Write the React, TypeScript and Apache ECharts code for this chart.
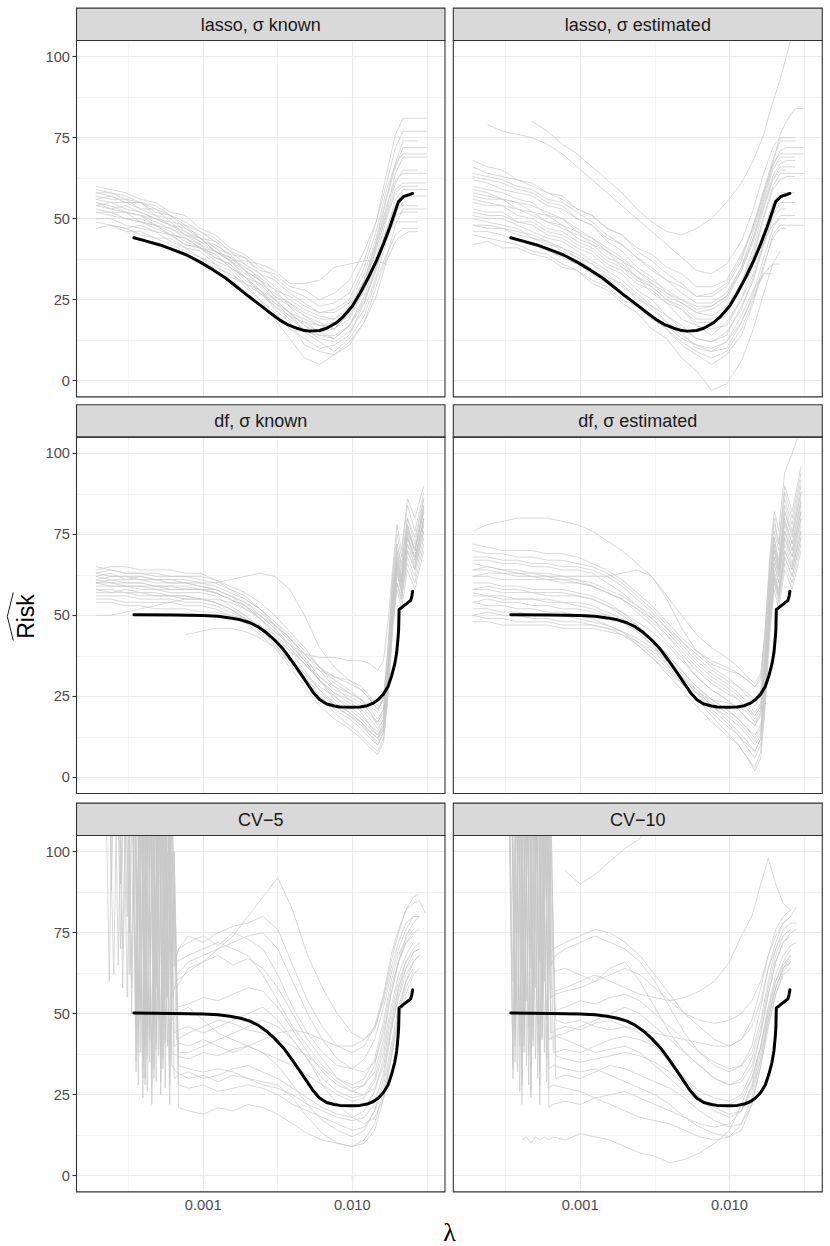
import React, { useEffect, useRef } from 'react';
import * as echarts from 'echarts';

// ---------- axis ticks (x in log10(lambda)) ----------
const X_TICKS = [-3, -2];
const X_MINOR = [-3.5, -2.5, -1.5];
const Y_TICKS = [0, 25, 50, 75, 100];
const Y_MINOR = [12.5, 37.5, 62.5, 87.5];
const X_MIN = -3.85;
const X_MAX = -1.378;
const Y_MIN = -5;
const Y_MAX = 105;

const PANEL_TITLES = ['lasso, \u03c3 known', 'lasso, \u03c3 estimated', 'df, \u03c3 known', 'df, \u03c3 estimated', 'CV\u22125', 'CV\u221210'];

// ---------- true risk curves (black) ----------
const BLACK_A_U = [-3.465, -3.4, -3.29, -3.2, -3.111, -3.02, -2.933, -2.85, -2.776, -2.7, -2.62, -2.55, -2.485, -2.43, -2.373, -2.33, -2.284, -2.22, -2.172, -2.11, -2.06, -2.0, -1.948, -1.89, -1.836, -1.79, -1.747, -1.71, -1.691, -1.658, -1.625, -1.595];
const BLACK_A_V = [44.1, 43.3, 41.9, 40.4, 38.8, 36.6, 34.2, 31.7, 29.0, 26.2, 23.4, 20.9, 18.7, 17.2, 16.2, 15.6, 15.3, 15.5, 16.2, 17.8, 19.8, 23.0, 27.0, 32.0, 37.2, 42.3, 47.5, 52.5, 55.2, 56.8, 57.3, 57.8];
const BLACK_B_U = [-3.465, -3.2, -3.0, -2.9, -2.821, -2.75, -2.687, -2.63, -2.575, -2.52, -2.463, -2.41, -2.351, -2.3, -2.262, -2.22, -2.172, -2.12, -2.083, -2.0, -1.948, -1.9, -1.859, -1.825, -1.792, -1.76, -1.736, -1.715, -1.702, -1.693, -1.689, -1.686, -1.67, -1.658, -1.635, -1.608, -1.6, -1.595];
const BLACK_B_V = [50.2, 50.1, 49.9, 49.7, 49.2, 48.6, 47.7, 46.4, 44.6, 42.3, 39.5, 36.2, 32.3, 28.8, 26.2, 24.0, 22.6, 22.0, 21.7, 21.6, 21.7, 22.1, 22.9, 24.0, 25.6, 28.0, 31.3, 35.0, 38.5, 43.0, 45.6, 51.8, 52.3, 52.8, 53.6, 54.6, 56.0, 57.4];

// ---------- lasso panels: estimated risk curves (grey) ----------
const LX = [-3.72, -3.62, -3.52, -3.42, -3.32, -3.22, -3.12, -3.02, -2.92, -2.82, -2.72, -2.62, -2.52, -2.42, -2.32, -2.22, -2.12, -2.02, -1.92, -1.84, -1.77, -1.71, -1.66, -1.62, -1.56, -1.5];
const LASSO_KNOWN = [
  [57, 56, 56, 53, 53, 49, 48, 44, 43, 38, 36, 31, 28, 23, 20, 17, 18, 21, 31, 42, 54, 62, 64, 64, 64, 64],
  [52, 51, 50, 49, 47, 45, 42, 41, 37, 35, 30, 28, 23, 20, 15, 14, 13, 17, 26, 37, 47, 54, 54, 54, 54, null],
  [59, 58, 57, 55, 54, 51, 49, 46, 44, 40, 38, 33, 31, 27, 24, 21, 22, 25, 35, 46, 59, 67, 70, 70, 70, 70],
  [50, 50, 48, 47, 46, 43, 41, 38, 36, 32, 30, 25, 21, 16, 13, 10, 11, 14, 24, 34, 45, 49, 49, 49, 49, null],
  [55, 53, 54, 52, 50, 49, 45, 44, 40, 38, 34, 31, 26, 23, 18, 17, 16, 21, 29, 41, 51, 59, 61, 61, 61, 61],
  [null, 48, 47, 48, 46, 45, 42, 41, 38, 36, 32, 30, 25, 21, 15, 12, 9, 13, 20, 31, 39, 45, 47, 47, 47, null],
  [54, 55, 53, 52, 50, 48, 46, 43, 42, 39, 38, 34, 33, 29, 28, 25, 27, 31, 40, 49, 61, 72, 77, 77, 77, 77],
  [58, 57, 55, 55, 51, 50, 46, 44, 40, 37, 32, 28, 22, 18, 11, 9, 8, 12, 18, 29, 38, 48, 53, 53, 53, 53],
  [53, 52, 52, 49, 48, 45, 44, 41, 39, 35, 32, 27, 24, 20, 18, 15, 16, 19, 28, 38, 50, 58, 60, 60, 60, null],
  [56, 57, 55, 55, 52, 51, 47, 45, 41, 39, 34, 31, 26, 24, 20, 18, 16, 21, 29, 42, 53, 64, 69, 69, 69, 69],
  [null, null, 50, 49, 48, 45, 44, 41, 40, 37, 37, 36, 34, 30, 30, 31, 35, 36, 37, 37, 36, null, null, null, null, null],
  [55, 54, 52, 51, 48, 47, 44, 42, 38, 36, 31, 28, 24, 21, 17, 15, 13, 17, 24, 35, 45, 54, 57, 57, 57, 57],
  [47, 48, 46, 46, 44, 44, 41, 40, 36, 34, 29, 25, 19, 13, 7, 5, 8, 11, 18, 26, 37, 43, 45, 46, 46, null],
  [60, 59, 58, 56, 55, 52, 51, 47, 45, 41, 39, 35, 32, 28, 26, 23, 24, 27, 37, 49, 64, 76, 81, 81, 81, 81],
  [54, 53, 52, 51, 49, 47, 45, 42, 40, 37, 33, 30, 27, 24, 21, 19, 19, 23, 31, 40, 52, 61, 65, 65, 65, null],
  [58, 58, 56, 55, 53, 51, 48, 46, 43, 40, 36, 33, 29, 25, 22, 20, 19, 22, 31, 43, 56, 66, 72, 72, 72, 72],
  [49, 48, 47, 45, 44, 42, 40, 38, 35, 33, 30, 27, 23, 19, 16, 13, 12, 15, 22, 32, 43, 51, 52, 52, 52, null],
  [56, 55, 55, 53, 51, 48, 47, 44, 41, 37, 34, 29, 25, 21, 17, 14, 14, 17, 25, 35, 46, 56, 59, 59, 59, 59],
  [null, null, null, 51, 50, 48, 45, 43, 40, 38, 35, 32, 28, 26, 23, 21, 21, 24, 33, 44, 57, 67, 74, 74, 74, null],
  [52, 52, 50, 50, 48, 46, 43, 41, 39, 35, 32, 28, 25, 21, 19, 17, 17, 20, 28, 36, 45, 52, 55, null, null, null],
];
const LASSO_EST = [
  [null, null, null, null, 80, 77, 73, 70, 66, 62, 58, 53, 49, 46, 45, 47, 50, 55, 61, 68, 76, 86, 93, 100, 110, null],
  [null, 79, 77, 76, 75, 73, 70, 66, 62, 58, 54, 50, 46, 42, 38, 34, 33, 36, 43, 53, 64, 72, 75, 75, 75, null],
  [66, 64, 63, 62, 60, 58, 56, 53, 51, 47, 45, 40, 37, 33, 30, 26, 26, 29, 37, 48, 58, 67, 70, 70, 70, 70],
  [58, 57, 56, 55, 52, 51, 48, 46, 42, 40, 35, 32, 27, 24, 19, 17, 14, 18, 25, 36, 46, 55, 58, 58, 58, null],
  [50, 49, 48, 47, 44, 43, 40, 38, 34, 32, 27, 24, 19, 16, 11, 8, 5, 8, 14, 24, 35, 45, 48, 48, 48, 48],
  [62, 61, 59, 58, 57, 54, 53, 50, 48, 44, 42, 38, 35, 31, 29, 26, 27, 30, 38, 48, 59, 68, 74, 74, 74, null],
  [45, 44, 43, 42, 40, 39, 36, 34, 30, 28, 24, 21, 16, 13, 7, 3, -3, -1, 6, 16, 27, 36, 40, null, null, null],
  [55, 54, 54, 51, 50, 47, 46, 43, 41, 37, 35, 31, 29, 25, 23, 19, 19, 21, 30, 39, 51, 60, 64, 64, 64, 64],
  [60, 59, 58, 56, 55, 51, 50, 46, 44, 40, 37, 32, 29, 25, 22, 18, 18, 20, 29, 38, 50, 59, 62, 63, 63, null],
  [52, 51, 51, 49, 48, 45, 44, 41, 39, 35, 33, 28, 25, 20, 17, 13, 12, 14, 23, 31, 42, 50, 53, 53, null, null],
  [68, 66, 65, 62, 61, 58, 57, 53, 51, 47, 45, 41, 39, 35, 33, 29, 29, 31, 39, 47, 58, 67, 76, 80, 84, 84],
  [48, 47, 47, 45, 44, 42, 41, 38, 36, 32, 30, 25, 23, 18, 15, 10, 9, 10, 18, 26, 33, 36, 36, null, null, null],
  [57, 56, 56, 53, 52, 49, 48, 44, 42, 38, 36, 32, 30, 26, 24, 21, 22, 25, 34, 44, 56, 65, 69, 69, 69, null],
  [42, 43, 41, 41, 39, 38, 35, 34, 31, 29, 25, 23, 19, 17, 13, 11, 9, 12, 20, 28, 33, 33, null, null, null, null],
  [63, 62, 61, 59, 58, 55, 54, 50, 48, 43, 40, 35, 32, 27, 25, 22, 23, 26, 35, 44, 55, 63, 67, 68, 68, null],
  [53, 52, 52, 49, 49, 46, 45, 42, 40, 36, 34, 30, 28, 24, 22, 17, 16, 17, 25, 33, 43, 48, 50, 50, null, null],
  [59, 58, 56, 55, 54, 52, 50, 47, 44, 41, 38, 34, 30, 27, 24, 21, 20, 23, 30, 41, 53, 62, 66, 66, 66, null],
  [46, 46, 45, 43, 42, 40, 38, 36, 33, 30, 27, 23, 20, 16, 12, 9, 7, 9, 16, 25, 36, 44, 47, 47, null, null],
  [64, 63, 62, 60, 59, 56, 55, 52, 49, 45, 42, 38, 34, 31, 27, 24, 24, 27, 35, 46, 57, 66, 71, 72, 72, 72],
  [51, 50, 50, 48, 46, 44, 43, 40, 37, 34, 31, 27, 23, 20, 16, 13, 12, 15, 22, 32, 42, 51, 55, 55, 55, null],
  [56, 55, 54, 53, 51, 49, 47, 45, 43, 40, 37, 34, 31, 28, 25, 23, 23, 26, 34, 43, 54, 62, 65, 65, null, null],
  [48, 48, 47, 46, 45, 43, 41, 39, 36, 33, 29, 26, 22, 18, 14, 11, 10, 12, 18, 27, 38, 47, 51, 51, 51, null],
];

// ---------- df panels ----------
const DX = [-3.72, -3.62, -3.52, -3.42, -3.32, -3.22, -3.12, -3.02, -2.92, -2.82, -2.72, -2.62, -2.52, -2.42, -2.32, -2.22, -2.12, -2.02, -1.94, -1.88, -1.83, -1.79, -1.76, -1.73, -1.7, -1.67, -1.63, -1.58, -1.52];
const DF_KNOWN = [
  [62, 63, 61, 62, 61, 60, 60, 59, 58, 56, 54, 50, 46, 40, 35, 30, 26, 24, 22, 19, 17, 20, 35, 55, 70, 62, 78, 70, 84],
  [58, 57, 58, 57, 57, 56, 56, 55, 54, 52, 49, 45, 41, 35, 30, 25, 21, 18, 15, 12, 10, 14, 28, 48, 60, 55, 68, 62, 74],
  [65, 64, 63, 63, 63, 62, 62, 62, 61, 59, 57, 54, 50, 45, 40, 34, 29, 26, 24, 22, 20, 25, 40, 62, 75, 68, 84, 76, 88],
  [55, 55, 54, 54, 54, 54, 53, 53, 52, 50, 48, 44, 40, 34, 28, 22, 18, 15, 12, 9, 7, 11, 25, 45, 58, 52, 64, 58, 70],
  [60, 60, 59, 59, 59, 58, 58, 58, 57, 55, 53, 49, 45, 41, 36, 33, 31, 30, 28, 25, 22, 24, 38, 58, 72, 65, 80, 72, 86],
  [50, 50, 51, 52, 53, 54, 55, 55, 54, 52, 50, 46, 42, 37, 32, 27, 23, 20, 17, 14, 12, 16, 30, 50, 64, 58, 72, 66, 78],
  [null, null, null, null, null, null, 44, 45, 46, 46, 45, 43, 40, 36, 32, 28, 25, 22, 19, 16, 14, 18, 32, 52, 66, 60, 74, 68, 80],
  [61, 62, 62, 61, 61, 61, 60, 60, 60, 61, 62, 63, 62, 58, 50, 40, 34, 30, 27, 24, 21, 24, 40, 60, 72, 66, 80, 74, 86],
  [63, 62, 62, 62, 61, 61, 61, 60, 59, 57, 55, 52, 48, 43, 37, 31, 27, 25, 23, 20, 17, 21, 35, 55, 68, 62, 76, 70, 82],
  [57, 57, 57, 56, 56, 56, 55, 55, 54, 52, 49, 46, 41, 36, 31, 26, 22, 19, 16, 13, 11, 15, 28, 47, 60, 54, 70, 64, 76],
  [64, 65, 65, 64, 64, 64, 63, 63, 61, 58, 55, 52, 47, 43, 38, 34, 31, 29, 27, 24, 21, 24, 38, 57, 70, 64, 78, 70, 84],
  [59, 59, 59, 58, 58, 57, 57, 57, 56, 53, 50, 46, 42, 37, 31, 25, 20, 16, 13, 10, 8, 12, 26, 46, 60, 56, 66, 60, 72],
  [60, 59, 59, 59, 58, 58, 58, 58, 57, 55, 52, 49, 45, 41, 38, 37, 37, 36, 36, 35, 33, 36, 48, 64, 78, 70, 86, 80, 90],
  [62, 61, 61, 61, 60, 60, 60, 59, 58, 56, 53, 49, 44, 39, 33, 27, 22, 19, 17, 14, 12, 15, 30, 50, 63, 57, 72, 65, 78],
  [60, 61, 60, 60, 59, 59, 58, 58, 57, 55, 53, 50, 46, 41, 36, 30, 25, 21, 18, 15, 13, 17, 31, 52, 66, 59, 75, 68, 80],
  [56, 56, 56, 55, 55, 55, 54, 54, 53, 51, 49, 46, 43, 39, 35, 31, 28, 26, 24, 21, 18, 21, 34, 54, 68, 61, 77, 70, 83],
  [63, 64, 63, 63, 62, 62, 62, 61, 60, 58, 56, 52, 48, 44, 39, 34, 30, 27, 24, 20, 16, 19, 33, 53, 66, 60, 74, 67, 79],
  [58, 58, 57, 57, 56, 56, 56, 55, 55, 54, 52, 50, 47, 43, 38, 33, 28, 24, 20, 16, 13, 16, 30, 50, 63, 57, 70, 64, 76],
  [61, 60, 60, 60, 59, 59, 59, 58, 58, 56, 54, 51, 47, 42, 36, 30, 24, 20, 17, 13, 10, 14, 29, 50, 65, 58, 74, 67, 80],
  [54, 54, 53, 53, 52, 52, 52, 51, 51, 50, 49, 47, 44, 40, 35, 30, 26, 23, 21, 18, 15, 18, 32, 53, 67, 60, 76, 70, 82],
];
const DF_EST = [
  [66, 65, 64, 63, 63, 62, 62, 61, 59, 57, 55, 51, 47, 42, 37, 31, 27, 24, 21, 18, 16, 20, 36, 58, 72, 64, 80, 72, 86],
  [56, 56, 55, 55, 55, 54, 54, 53, 52, 50, 48, 45, 41, 35, 29, 24, 20, 16, 13, 10, 8, 12, 28, 50, 64, 58, 70, 64, 76],
  [76, 78, 79, 80, 80, 80, 79, 78, 76, 73, 70, 66, 62, 56, 50, 44, 40, 37, 34, 31, 29, 32, 46, 66, 80, 72, 90, 82, 96],
  [62, 62, 61, 61, 61, 61, 60, 60, 59, 57, 55, 52, 49, 45, 40, 35, 31, 28, 25, 22, 19, 22, 38, 60, 74, 66, 82, 74, 88],
  [48, 48, 47, 47, 47, 47, 46, 46, 46, 45, 44, 42, 38, 34, 29, 24, 19, 14, 10, 6, 3, 8, 24, 46, 60, 54, 66, 60, 72],
  [70, 69, 69, 68, 68, 67, 67, 66, 65, 63, 60, 56, 52, 47, 42, 37, 33, 30, 28, 26, 24, 27, 42, 63, 76, 70, 86, 78, 92],
  [58, 58, 57, 57, 57, 56, 56, 56, 55, 53, 50, 47, 43, 38, 33, 28, 24, 21, 18, 15, 13, 16, 30, 52, 66, 60, 74, 66, 80],
  [52, 52, 51, 51, 50, 50, 50, 49, 48, 47, 45, 42, 39, 35, 31, 27, 23, 20, 17, 14, 11, 14, 28, 48, 62, 56, 68, 62, 74],
  [64, 65, 64, 64, 63, 63, 62, 62, 62, 62, 63, 64, 62, 55, 46, 39, 35, 33, 32, 30, 28, 31, 46, 68, 82, 76, 94, 100, 108],
  [60, 60, 59, 59, 58, 58, 58, 57, 56, 54, 51, 47, 43, 38, 33, 28, 24, 21, 18, 15, 12, 15, 30, 52, 66, 60, 76, 68, 82],
  [54, 53, 53, 52, 52, 51, 51, 50, 49, 47, 45, 41, 37, 32, 27, 22, 17, 13, 10, 6, 2, 6, 22, 44, 58, 52, 64, 58, 70],
  [67, 67, 66, 66, 65, 65, 64, 64, 63, 60, 57, 53, 49, 44, 38, 33, 29, 26, 24, 21, 19, 22, 36, 56, 70, 64, 78, 70, 84],
  [50, 49, 49, 48, 48, 48, 47, 47, 47, 46, 44, 41, 37, 33, 29, 26, 24, 23, 22, 20, 17, 20, 34, 54, 68, 62, 74, 68, 80],
  [72, 71, 70, 70, 70, 69, 69, 68, 66, 64, 61, 57, 53, 48, 43, 39, 36, 34, 32, 30, 28, 30, 44, 64, 78, 72, 88, 80, 94],
  [58, 59, 58, 58, 57, 57, 57, 56, 55, 53, 51, 48, 45, 41, 36, 31, 27, 24, 21, 18, 16, 19, 33, 54, 68, 62, 76, 70, 82],
  [62, 63, 63, 62, 62, 61, 61, 60, 59, 57, 55, 52, 48, 44, 39, 34, 30, 27, 24, 21, 18, 21, 36, 57, 70, 63, 79, 72, 85],
  [57, 56, 56, 55, 55, 55, 54, 54, 53, 51, 49, 46, 42, 37, 32, 27, 22, 18, 14, 11, 8, 12, 27, 48, 62, 56, 70, 64, 76],
  [68, 68, 67, 67, 66, 66, 65, 65, 64, 62, 59, 55, 51, 46, 41, 36, 32, 29, 26, 23, 20, 23, 38, 58, 72, 65, 82, 75, 88],
  [54, 55, 54, 54, 53, 53, 52, 52, 51, 50, 48, 45, 41, 36, 31, 26, 22, 19, 16, 13, 10, 13, 28, 49, 63, 57, 72, 65, 78],
  [64, 64, 63, 63, 62, 62, 61, 61, 60, 58, 56, 53, 50, 46, 42, 38, 34, 31, 28, 25, 22, 25, 40, 60, 74, 67, 84, 76, 90],
  [50, 51, 50, 50, 49, 49, 48, 48, 47, 46, 45, 43, 40, 36, 31, 26, 21, 17, 13, 9, 6, 10, 26, 47, 61, 55, 68, 62, 74],
];

// ---------- CV panels (two interleaved lambda grids) ----------
const CX = [-3.66, -3.63, -3.6, -3.57, -3.54, -3.51, -3.48, -3.45, -3.42, -3.39, -3.36, -3.33, -3.3, -3.27, -3.24, -3.21, -3.18, -3.1, -3.0, -2.9, -2.8, -2.7, -2.6, -2.5, -2.4, -2.3, -2.2, -2.1, -2.0, -1.92, -1.85, -1.79, -1.74, -1.69, -1.64, -1.59, -1.55, -1.51];
const CX_B = [-3.645, -3.615, -3.585, -3.555, -3.525, -3.495, -3.465, -3.435, -3.405, -3.375, -3.345, -3.315, -3.285, -3.255, -3.225, -3.195, -3.165, -3.1, -3.0, -2.9, -2.8, -2.7, -2.6, -2.5, -2.4, -2.3, -2.2, -2.1, -2.0, -1.92, -1.85, -1.79, -1.74, -1.69, -1.64, -1.59, -1.55, -1.51];
const CV5 = [
  [null, null, null, null, null, null, 140, 45, 150, 40, 160, 48, 130, 52, 120, 55, 60, 63, 66, 70, 74, 80, 86, 92, 82, 68, 58, 50, 44, 42, 45, 55, 66, 75, 82, 86, 87, null],
  [150, 88, 160, 70, 140, 62, 150, 50, 170, 45, 140, 60, 150, 55, 110, 65, 70, 72, 74, 71, 75, 73, 70, 62, 52, 44, 38, 34, 33, 36, 42, 52, 62, 70, 76, 80, null, null],
  [null, null, null, null, null, null, 130, 32, 150, 28, 160, 30, 140, 33, 100, 34, 32, 30, 31, 29, 31, 30, 28, 27, 25, 22, 20, 18, 17, 18, 22, 32, 45, 55, 62, 66, 68, null],
  [null, null, null, null, null, null, null, 140, 24, 150, 22, 130, 25, 120, 22, 90, 21, 20, 19, 21, 20, 22, 21, 19, 16, 13, 11, 10, 9, 11, 16, 26, 38, 50, 58, 63, null, null],
  [null, 120, 62, 150, 58, 130, 60, 160, 50, 140, 42, 150, 48, 120, 55, 100, 58, 64, 66, 68, 65, 67, 64, 58, 50, 42, 36, 30, 27, 28, 32, 42, 56, 66, 72, 75, 76, null],
  [null, null, null, null, null, null, 150, 38, 160, 36, 130, 40, 150, 42, 120, 44, 45, 46, 44, 46, 48, 50, 52, 48, 42, 36, 30, 26, 24, 25, 30, 40, 52, 62, 68, 72, null, null],
  [null, null, null, null, null, null, 160, 35, 140, 30, 150, 33, 110, 36, 140, 38, 37, 36, 38, 37, 39, 40, 38, 34, 28, 22, 17, 14, 12, 14, 20, 30, 44, 56, 64, 69, 70, null],
  [null, null, 150, 90, 130, 75, 160, 55, 140, 50, 150, 58, 130, 62, 150, 66, 70, 74, 72, 75, 77, 78, 80, 76, 65, 54, 46, 40, 38, 40, 46, 56, 68, 76, 82, 84, 85, 81],
  [null, null, null, null, null, null, 140, 42, 150, 44, 160, 46, 130, 48, 140, 50, 52, 53, 55, 54, 56, 58, 57, 52, 45, 38, 32, 28, 26, 28, 34, 46, 58, 66, 72, 74, null, null],
  [null, null, null, null, null, null, null, 150, 30, 140, 27, 150, 29, 130, 28, 100, 28, 27, 28, 26, 27, 28, 27, 25, 22, 20, 18, 16, 14, 15, 20, 28, 40, 52, 60, 64, null, null],
  [140, 60, 150, 65, 140, 55, 150, 46, 130, 40, 150, 44, 140, 46, 130, 48, 50, 52, 48, 44, 42, 40, 38, 36, 34, 31, 28, 25, 23, 24, 29, 38, 50, 60, 66, 69, 70, null],
  [null, null, null, null, null, null, 130, 40, 150, 37, 140, 39, 160, 41, 110, 40, 41, 40, 42, 40, 38, 40, 42, 44, 45, 44, 42, 40, 40, 42, 46, 54, 64, 72, 78, 80, 80, null],
  [null, null, null, null, 150, 80, 140, 60, 150, 55, 130, 60, 140, 62, 120, 64, 66, 68, 70, 72, 70, 68, 62, 54, 46, 40, 34, 30, 28, 30, 36, 48, 60, 68, 73, 76, null, null],
  [null, null, null, null, null, null, null, 160, 34, 130, 32, 150, 33, 120, 35, 90, 34, 33, 32, 33, 32, 30, 29, 28, 24, 18, 13, 10, 9, 10, 14, 24, 36, 48, 56, 62, 64, null],
  [null, null, null, null, null, 135, 50, 150, 38, 140, 35, 160, 37, 130, 40, 110, 42, 44, 46, 48, 47, 45, 44, 42, 40, 37, 33, 29, 26, 25, 27, 34, 46, 58, 66, 70, 72, null],
  [null, null, null, null, null, null, 150, 28, 130, 26, 150, 29, 140, 27, 120, 30, 31, 32, 30, 31, 33, 34, 32, 30, 27, 24, 21, 19, 18, 20, 26, 36, 48, 58, 64, 67, null, null],
  [null, null, null, 150, 70, 140, 58, 160, 48, 130, 45, 150, 52, 140, 56, 120, 62, 66, 68, 70, 72, 74, 75, 70, 60, 50, 42, 36, 33, 32, 35, 44, 56, 66, 74, 78, 80, null],
  [null, null, null, null, null, null, null, 140, 36, 150, 34, 130, 36, 160, 38, 100, 38, 38, 40, 42, 44, 46, 48, 46, 42, 36, 28, 22, 18, 16, 18, 24, 36, 50, 60, 66, 68, null],
];
const CV10 = [
  [null, null, null, null, null, null, null, null, null, null, null, null, null, null, null, null, null, 94, 90, 93, 97, 101, 104, 110, null, null, null, null, null, null, null, null, null, null, null, null, null, null],
  [null, null, null, null, null, null, 150, 55, 140, 50, 160, 52, 130, 56, 150, 58, 57, 58, 60, 62, 60, 58, 56, 55, 54, 55, 57, 60, 66, 74, 80, 90, 98, 90, 84, 82, null, null],
  [null, null, null, null, null, null, null, null, null, 11, 12, 10, 12, 11, 12, 11, 12, 11, 13, 12, 11, 9, 7, 6, 4, 5, 7, 10, 14, 22, 30, 40, 50, 58, 64, 66, null, null],
  [null, null, null, null, null, null, 160, 45, 150, 48, 130, 55, 140, 60, 120, 65, 68, 70, 72, 74, 72, 70, 66, 60, 52, 44, 38, 34, 32, 34, 40, 52, 64, 72, 78, 80, 83, null],
  [null, null, null, null, null, null, 140, 30, 150, 28, 160, 26, 130, 28, 150, 27, 28, 27, 26, 24, 22, 20, 18, 17, 16, 14, 12, 11, 12, 16, 24, 36, 48, 58, 64, 67, null, null],
  [null, null, null, null, null, null, 150, 35, 130, 38, 150, 40, 140, 42, 110, 44, 45, 46, 45, 47, 48, 46, 44, 40, 35, 30, 26, 24, 23, 25, 32, 44, 56, 66, 72, 75, 76, null],
  [null, null, null, null, null, null, null, 150, 32, 140, 34, 160, 36, 130, 38, 120, 38, 39, 38, 40, 42, 43, 42, 40, 36, 30, 24, 20, 18, 20, 27, 38, 50, 60, 66, 70, null, null],
  [null, null, null, null, null, null, 130, 40, 160, 42, 140, 46, 150, 48, 130, 50, 51, 52, 54, 53, 55, 56, 54, 50, 46, 42, 38, 35, 33, 34, 38, 48, 60, 70, 76, 78, 78, null],
  [null, null, null, null, null, null, null, 140, 50, 150, 54, 130, 58, 160, 60, 110, 63, 64, 62, 60, 62, 64, 62, 58, 54, 50, 48, 47, 48, 50, 54, 60, 68, 74, 78, 80, null, null],
  [null, null, null, null, null, null, 150, 42, 130, 40, 140, 42, 160, 43, 120, 42, 43, 42, 40, 38, 39, 40, 38, 34, 30, 26, 23, 22, 22, 24, 30, 40, 52, 62, 68, 71, 72, null],
  [null, null, null, null, null, null, null, null, 140, 22, 150, 24, 130, 22, 140, 21, 22, 23, 22, 24, 25, 26, 24, 22, 20, 18, 16, 15, 16, 20, 28, 40, 52, 60, 65, 68, null, null],
  [null, null, null, null, null, null, 140, 48, 150, 50, 140, 52, 130, 54, 150, 55, 56, 57, 58, 60, 64, 66, 60, 52, 44, 38, 34, 30, 28, 30, 36, 46, 58, 68, 74, 76, null, null],
  [null, null, null, null, null, null, 120, 33, 150, 31, 130, 33, 150, 32, 140, 33, 34, 33, 32, 33, 31, 29, 27, 25, 22, 18, 15, 13, 12, 14, 22, 34, 46, 56, 62, 64, null, null],
  [null, null, null, null, null, null, null, 160, 44, 150, 46, 140, 47, 120, 48, 100, 48, 47, 48, 46, 45, 46, 45, 44, 43, 42, 41, 40, 40, 42, 46, 54, 64, 70, 74, 76, null, null],
  [null, null, null, null, null, null, 140, 36, 150, 38, 130, 40, 150, 41, 120, 42, 43, 44, 46, 48, 50, 52, 50, 46, 42, 38, 34, 30, 28, 29, 34, 44, 56, 66, 72, 74, null, null],
  [null, null, null, null, null, null, null, 150, 26, 140, 28, 160, 30, 130, 29, 110, 30, 31, 30, 32, 34, 33, 31, 29, 27, 24, 20, 17, 15, 16, 22, 34, 46, 56, 63, 66, null, null],
  [null, null, null, null, null, null, 130, 60, 150, 62, 140, 64, 130, 66, 150, 68, 70, 72, 74, 76, 75, 72, 68, 62, 56, 50, 46, 42, 40, 42, 48, 58, 68, 76, 80, 82, null, null],
  [null, null, null, null, null, null, null, 140, 40, 150, 37, 130, 38, 140, 36, 110, 37, 36, 35, 36, 37, 38, 37, 35, 32, 28, 24, 21, 19, 20, 26, 36, 48, 58, 64, 68, null, null],
];

// ---------- layout (pixels) ----------
const COL_LEFT = [76.5, 453.3];
const COL_WIDTH = [368.5, 369];
const ROW_TOP = [40.5, 437.1, 835.5];
const ROW_H = 356.4;
const STRIP_H = 32.4;
const FONT = '"Liberation Sans", Arial, Helvetica, sans-serif';
const GREY = '#c8c8c8';

const PANELS = [
  { xs: LX, xsAlt: LX, lines: LASSO_KNOWN, bu: BLACK_A_U, bv: BLACK_A_V },
  { xs: LX, xsAlt: LX, lines: LASSO_EST, bu: BLACK_A_U, bv: BLACK_A_V },
  { xs: DX, xsAlt: DX, lines: DF_KNOWN, bu: BLACK_B_U, bv: BLACK_B_V },
  { xs: DX, xsAlt: DX, lines: DF_EST, bu: BLACK_B_U, bv: BLACK_B_V },
  { xs: CX, xsAlt: CX_B, lines: CV5, bu: BLACK_B_U, bv: BLACK_B_V },
  { xs: CX, xsAlt: CX_B, lines: CV10, bu: BLACK_B_U, bv: BLACK_B_V },
];

export default function App() {
  const ref = useRef<HTMLDivElement>(null);
  useEffect(() => {
    const chart = echarts.init(ref.current as HTMLDivElement, null, { renderer: 'svg' });
    const grids: any[] = [];
    const xAxes: any[] = [];
    const yAxes: any[] = [];
    const series: any[] = [];
    const graphics: any[] = [];

    PANELS.forEach((p, i) => {
      const col = i % 2;
      const row = Math.floor(i / 2);
      const left = COL_LEFT[col];
      const width = COL_WIDTH[col];
      const top = ROW_TOP[row];
      grids.push({ left, top, width, height: ROW_H, containLabel: false, outerBoundsMode: 'none', show: false });
      const isBottom = row === 2;
      const isLeft = col === 0;
      xAxes.push({
        type: 'value', gridIndex: i, min: X_MIN, max: X_MAX,
        axisLine: { show: false }, splitLine: { show: false }, minorTick: { show: false },
        axisTick: isBottom ? { show: true, customValues: X_TICKS, length: 4, lineStyle: { color: '#333333', width: 1.1 } } : { show: false },
        axisLabel: isBottom ? {
          show: true, customValues: X_TICKS, formatter: (v: number) => Math.pow(10, v).toFixed(3),
          color: '#4d4d4d', fontSize: 14.7, fontFamily: FONT, margin: 6,
        } : { show: false },
      });
      yAxes.push({
        type: 'value', gridIndex: i, min: Y_MIN, max: Y_MAX,
        axisLine: { show: false }, splitLine: { show: false }, minorTick: { show: false },
        axisTick: isLeft ? { show: true, customValues: Y_TICKS, length: 4, lineStyle: { color: '#333333', width: 1.1 } } : { show: false },
        axisLabel: isLeft ? {
          show: true, customValues: Y_TICKS, formatter: (v: number) => String(v),
          color: '#4d4d4d', fontSize: 14.7, fontFamily: FONT, margin: 6.5,
        } : { show: false },
      });

      const gl = (v: number, axis: 'xAxis' | 'yAxis', major: boolean) => ({
        [axis]: v,
        lineStyle: { color: '#ebebeb', width: major ? 1.1 : 0.55, type: 'solid' },
      });
      series.push({
        type: 'line', xAxisIndex: i, yAxisIndex: i, data: [], silent: true, z: 1,
        markLine: {
          z: 1, silent: true, symbol: ['none', 'none'], label: { show: false }, emphasis: { disabled: true },
          data: [
            ...X_MINOR.map((v) => gl(v, 'xAxis', false)),
            ...Y_MINOR.map((v) => gl(v, 'yAxis', false)),
            ...X_TICKS.map((v) => gl(v, 'xAxis', true)),
            ...Y_TICKS.map((v) => gl(v, 'yAxis', true)),
          ],
        },
      });

      p.lines.forEach((line, li) => {
        const xs = li % 2 === 1 ? p.xsAlt : p.xs;
        const data: any[] = [];
        xs.forEach((u, k) => {
          const v = line[k];
          if (v !== null && v !== undefined) data.push([u, v]);
        });
        series.push({
          type: 'line', xAxisIndex: i, yAxisIndex: i, data, symbol: 'none', showSymbol: false,
          silent: true, clip: true, z: 6,
          lineStyle: { color: GREY, width: 0.7 },
        });
      });

      series.push({
        type: 'line', xAxisIndex: i, yAxisIndex: i,
        data: p.bu.map((u, k) => [u, p.bv[k]]),
        symbol: 'none', showSymbol: false, silent: true, clip: true, z: 7,
        lineStyle: { color: '#000000', width: 3, cap: 'round', join: 'round' },
      });

      graphics.push({
        type: 'rect', z: 100, silent: true,
        shape: { x: left, y: top - STRIP_H, width, height: STRIP_H },
        style: { fill: '#d9d9d9', stroke: '#333333', lineWidth: 1.1 },
      });
      graphics.push({
        type: 'text', z: 101, silent: true, x: left + width / 2, y: top - STRIP_H / 2 + 0.5,
        style: {
          text: PANEL_TITLES[i], fill: '#1a1a1a', fontSize: 18, fontFamily: FONT,
          align: 'center', verticalAlign: 'middle', textAlign: 'center', textVerticalAlign: 'middle',
        },
      });
      graphics.push({
        type: 'rect', z: 100, silent: true,
        shape: { x: left, y: top, width, height: ROW_H },
        style: { fill: 'none', stroke: '#333333', lineWidth: 1.1 },
      });
    });

    graphics.push({
      type: 'text', z: 101, silent: true, x: 26, y: 616.5, rotation: Math.PI / 2,
      style: {
        text: 'Risk', fill: '#000000', fontSize: 23, fontFamily: FONT,
        align: 'center', verticalAlign: 'middle', textAlign: 'center', textVerticalAlign: 'middle',
      },
    });
    graphics.push({
      type: 'polyline', z: 101, silent: true,
      shape: { points: [[13.3, 592.5], [7.3, 616.5], [13.3, 640.5]] },
      style: { stroke: '#000000', fill: 'none', lineWidth: 0.9 },
    });
    graphics.push({
      type: 'text', z: 101, silent: true, x: 449.5, y: 1232,
      style: {
        text: '\u03bb', fill: '#000000', fontSize: 26, fontFamily: '"Liberation Serif", "DejaVu Serif", serif',
        align: 'center', verticalAlign: 'middle', textAlign: 'center', textVerticalAlign: 'middle',
      },
    });

    chart.setOption({
      animation: false,
      backgroundColor: '#ffffff',
      grid: grids,
      xAxis: xAxes,
      yAxis: yAxes,
      series,
      graphic: graphics,
    });
    return () => chart.dispose();
  }, []);
  return <div ref={ref} style={{ position: 'fixed', left: 0, top: 0, width: 830, height: 1246 }} />;
}
